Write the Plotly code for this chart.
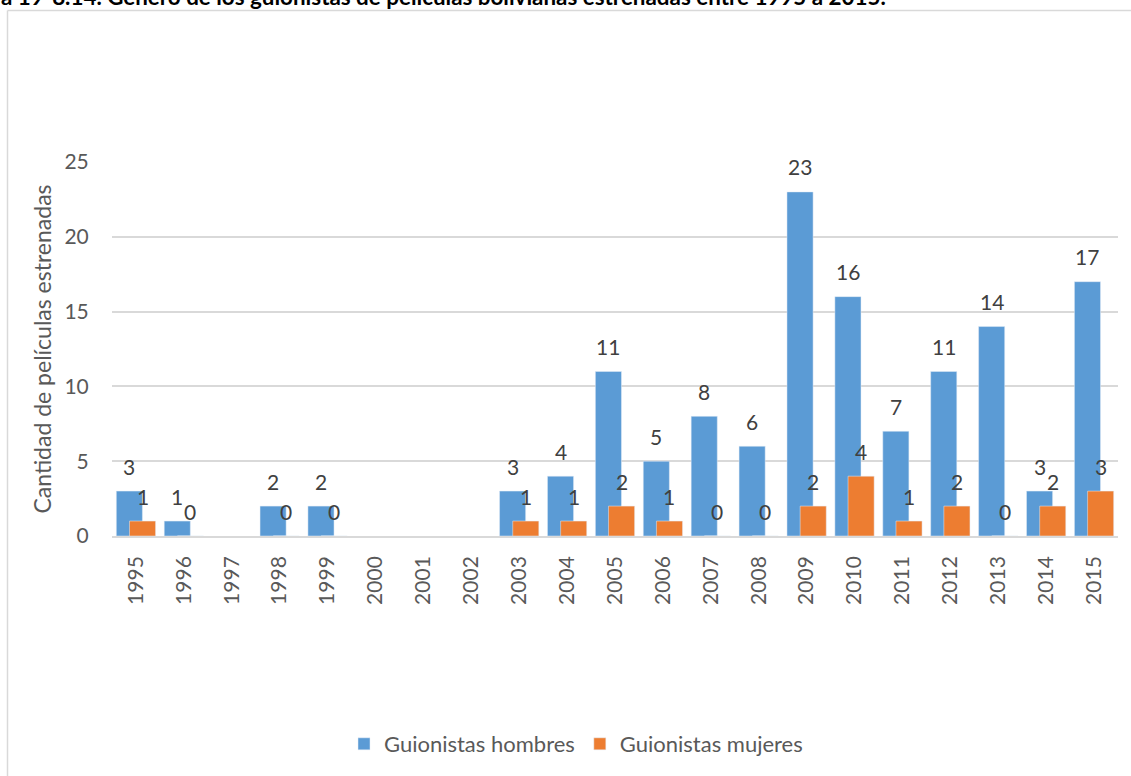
import plotly.graph_objects as go

# Películas bolivianas estrenadas 1995-2015: guionistas por género
years = [str(y) for y in range(1995, 2016)]
hombres = [3, 1, None, 2, 2, None, None, None, 3, 4, 11, 5, 8, 6, 23, 16, 7, 11, 14, 3, 17]
mujeres = [1, 0, None, 0, 0, None, None, None, 1, 1, 2, 1, 0, 0, 2, 4, 1, 2, 0, 2, 3]

title_text = "a 19-8.14. Género de los guionistas de películas bolivianas estrenadas entre 1995 a 2015."
ytitle = "Cantidad de películas estrenadas"

W, H = 1131, 776
ML, MR, MT, MB = 112, 13, 162, 239
PW, PH = W - ML - MR, H - MT - MB


def px_x(p):
    return (p - ML) / PW


def px_y(p):
    return (H - MB - p) / PH


FONT = "Lato"
AXIS_COLOR = "#595959"
LABEL_COLOR = "#404040"
BLUE = "#5B9BD5"
ORANGE = "#ED7D31"

BAR_W = 0.545
OFF_H = -0.41
OFF_M = -0.135

fig = go.Figure()
fig.add_trace(go.Bar(
    x=years, y=hombres, name="Guionistas hombres",
    marker=dict(color=BLUE), width=BAR_W, offset=OFF_H,
))
fig.add_trace(go.Bar(
    x=years, y=mujeres, name="Guionistas mujeres",
    marker=dict(color=ORANGE), width=BAR_W, offset=OFF_M,
))

# value labels above each bar (category index used as x position)
annotations = []
for series, off in ((hombres, OFF_H), (mujeres, OFF_M)):
    for i, v in enumerate(series):
        if v is None:
            continue
        annotations.append(dict(
            x=i + off + BAR_W / 2, y=v, xref="x", yref="y", text=str(v), showarrow=False,
            yshift=25, yanchor="middle", xanchor="center",
            font=dict(family=FONT, size=21, color=LABEL_COLOR),
        ))

annotations.append(dict(
    x=px_x(-1), y=px_y(12), xref="paper", yref="paper", text="<b>" + title_text + "</b>",
    showarrow=False, xanchor="left", yanchor="bottom",
    font=dict(family=FONT, size=22.4, color="#000000"),
))

fig.update_layout(
    width=W, height=H,
    margin=dict(l=ML, r=MR, t=MT, b=MB, pad=0),
    paper_bgcolor="white", plot_bgcolor="white",
    barmode="overlay",
    font=dict(family=FONT, size=21, color=AXIS_COLOR),
    annotations=annotations,
    showlegend=True,
    legend=dict(
        orientation="h", x=px_x(576), xanchor="center", y=px_y(744), yanchor="middle",
        font=dict(family=FONT, size=22, color=AXIS_COLOR),
        itemclick=False,
    ),
    shapes=[
        dict(type="line", xref="paper", yref="paper", x0=px_x(7.5), x1=px_x(1135),
             y0=px_y(10), y1=px_y(10), line=dict(color="#D9D9D9", width=1.5)),
        dict(type="line", xref="paper", yref="paper", x0=px_x(7.5), x1=px_x(7.5),
             y0=px_y(10), y1=px_y(780), line=dict(color="#D9D9D9", width=1.5)),
    ],
)

fig.update_xaxes(
    type="category", categoryorder="array", categoryarray=years,
    range=[-0.5, len(years) - 0.5],
    tickangle=-90, ticks="outside", ticklen=10, tickcolor="rgba(0,0,0,0)",
    showline=True, linecolor="#D9D9D9", linewidth=1.5,
    showgrid=False, tickfont=dict(family=FONT, size=21, color=AXIS_COLOR),
)
fig.update_yaxes(
    range=[0, 25], dtick=5, tick0=0,
    showgrid=True, gridcolor="#D9D9D9", gridwidth=1.5,
    zeroline=False, showline=False,
    ticks="outside", ticklen=18, tickcolor="rgba(0,0,0,0)",
    tickfont=dict(family=FONT, size=21, color=AXIS_COLOR),
    title=dict(text=ytitle, standoff=6, font=dict(family=FONT, size=23, color=AXIS_COLOR)),
)

fig.write_html("out.html")
